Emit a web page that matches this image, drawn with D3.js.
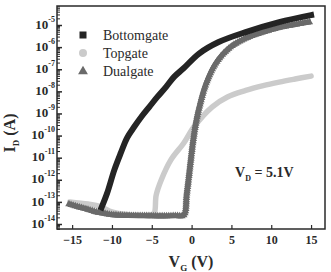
<!DOCTYPE html>
<html>
<head>
<meta charset="utf-8">
<script src="https://cdn.jsdelivr.net/npm/d3@7"></script>
<style>
body { margin: 0; background: #fff; }
svg text { font-family: "Liberation Serif", "DejaVu Serif", serif; }
</style>
</head>
<body>
<script>
// values (V_G in V, I_D in A)
const vgBottom = [-11.3, -10.6, -9.7, -8.9, -8.1, -7.2, -6.3, -5.3, -4.3, -3.2, -2.2, -1.0, 0.9, 3.4, 6.8, 11.0, 15.0];
const idBottom = [5.6e-14, 2.5e-13, 2.8e-12, 1.6e-11, 7.9e-11, 2.5e-10, 7.1e-10, 2.0e-9, 5.6e-9, 1.6e-8, 4.5e-8, 1.1e-7, 5.0e-7, 1.7e-6, 4.8e-6, 1.35e-5, 2.8e-5];

const vgTop = [-15.3, -13, -11.5, -10, -8, -6, -5.2, -4.7, -4.45, -3.8, -2.6, -1.0, 0.3, 2.6, 4.5, 6.8, 9, 11, 13, 15];
const idTop = [1.0e-13, 8.0e-14, 6.3e-14, 3.5e-14, 2.6e-14, 2.4e-14, 2.4e-14, 3.0e-14, 2.0e-13, 1.0e-12, 7.9e-12, 4.5e-11, 2.5e-10, 2.0e-9, 5.6e-9, 1.1e-8, 1.8e-8, 2.6e-8, 3.6e-8, 4.9e-8];

const vgDual = [-15.4, -14, -13, -12, -11, -10, -8, -6, -4, -2, -1.0, -0.6, -0.2, 0.2, 0.6, 1.0, 1.8, 3, 4.7, 6.8, 9, 11, 13, 15];
const idDual = [7.9e-14, 5.6e-14, 4.5e-14, 3.5e-14, 3.0e-14, 2.6e-14, 2.4e-14, 2.35e-14, 2.3e-14, 2.35e-14, 2.5e-14, 2.5e-13, 4.0e-12, 6.3e-11, 5.0e-10, 2.2e-9, 2.2e-8, 1.8e-7, 8.9e-7, 2.5e-6, 4.8e-6, 7.6e-6, 1.05e-5, 1.4e-5];

const seriesNames = ["Bottomgate", "Topgate", "Dualgate"];
const xTicks = [-15, -10, -5, 0, 5, 10, 15];
const yDecades = [-14, -13, -12, -11, -10, -9, -8, -7, -6, -5];

const width = 331, height = 272;
const plotL = 57, plotR = 325, plotT = 6, plotB = 229;
const serif = "'Liberation Serif', 'DejaVu Serif', serif";

const svg = d3.select("body").append("svg")
    .attr("width", width)
    .attr("height", height)
    .attr("font-family", serif);

const x = d3.scaleLinear().domain([-16.9, 16.75]).range([plotL, plotR]);
const y = d3.scaleLog().domain([Math.pow(10, -14.226), Math.pow(10, -4.14)]).range([plotB, plotT]);

const series = [
    { name: seriesNames[0], vg: vgBottom, id: idBottom, color: "#242424", w: 6, cap: "square" },
    { name: seriesNames[1], vg: vgTop, id: idTop, color: "#cbcbcb", w: 5.5, cap: "round" },
    { name: seriesNames[2], vg: vgDual, id: idDual, color: "#6a6a6a", w: 5, cap: "butt" }
];

const line = d3.line()
    .x(d => x(d[0]))
    .y(d => y(d[1]))
    .curve(d3.curveCatmullRom.alpha(0.5));

// draw order: topgate, dualgate, bottomgate
[series[1], series[2], series[0]].forEach(s => {
    const p = svg.append("path")
        .datum(s.vg.map((v, i) => [v, s.id[i]]))
        .attr("d", line)
        .attr("fill", "none")
        .attr("stroke", s.color)
        .attr("stroke-width", s.w)
        .attr("stroke-linecap", s.cap)
        .attr("stroke-linejoin", "round");

    if (s.name === "Dualgate") {
        // dense triangle markers along the curve, like the measured points
        const node = p.node();
        const len = node.getTotalLength();
        const pts = d3.range(0, len, 2.2).map(l => node.getPointAtLength(l));
        svg.append("g").selectAll("path")
            .data(pts)
            .enter().append("path")
            .attr("d", d3.symbol().type(d3.symbolTriangle).size(24))
            .attr("transform", d => `translate(${d.x}, ${d.y})`)
            .attr("fill", s.color);
    }
});

// frame
svg.append("rect")
    .attr("x", plotL).attr("y", plotT)
    .attr("width", plotR - plotL).attr("height", plotB - plotT)
    .attr("fill", "none")
    .attr("stroke", "#2a2a2a")
    .attr("stroke-width", 1.5);

// x axis, ticks inward
const xAxis = svg.append("g")
    .attr("transform", `translate(0, ${plotB})`)
    .call(d3.axisBottom(x).tickValues(xTicks).tickSize(-4).tickPadding(6).tickFormat(d3.format("d")))
    .attr("font-family", serif);
xAxis.select(".domain").remove();
xAxis.selectAll("line").attr("stroke", "#2a2a2a").attr("stroke-width", 1.2);
xAxis.selectAll("text")
    .attr("fill", "#2a2a2a")
    .attr("font-size", 12)
    .attr("font-weight", "bold");

// y axis, major and minor ticks inward
const minor = [];
yDecades.concat([-15]).forEach(e => {
    for (let k = 2; k <= 9; k++) {
        const v = k * Math.pow(10, e);
        if (v > y.domain()[0] && v < y.domain()[1]) minor.push(v);
    }
});

const yMinor = svg.append("g")
    .attr("transform", `translate(${plotL}, 0)`)
    .call(d3.axisLeft(y).tickValues(minor).tickSize(-3).tickFormat(""));
yMinor.select(".domain").remove();
yMinor.selectAll("line").attr("stroke", "#2a2a2a").attr("stroke-width", 1);

const yAxis = svg.append("g")
    .attr("transform", `translate(${plotL}, 0)`)
    .call(d3.axisLeft(y).tickValues(yDecades.map(e => Math.pow(10, e))).tickSize(-5).tickPadding(2).tickFormat(""))
    .attr("font-family", serif);
yAxis.select(".domain").remove();
yAxis.selectAll("line").attr("stroke", "#2a2a2a").attr("stroke-width", 1.5);
yAxis.selectAll(".tick text")
    .attr("fill", "#2a2a2a")
    .attr("font-weight", "bold")
    .each(function (d) {
        const t = d3.select(this);
        t.append("tspan").attr("font-size", 13).text("10");
        t.append("tspan").attr("font-size", 8).attr("dy", "-0.9em").text(Math.round(Math.log10(d)));
    });

// legend
const legend = svg.append("g");
const ly = [35, 53, 71];
legend.append("rect")
    .attr("x", 79.5).attr("y", ly[0] - 3.5).attr("width", 7).attr("height", 7)
    .attr("fill", series[0].color);
legend.append("circle")
    .attr("cx", 83).attr("cy", ly[1]).attr("r", 4)
    .attr("fill", series[1].color);
legend.append("path")
    .attr("d", d3.symbol().type(d3.symbolTriangle).size(42))
    .attr("transform", `translate(83, ${ly[2] + 0.5})`)
    .attr("fill", series[2].color);
legend.selectAll("text.lg")
    .data(seriesNames)
    .enter().append("text")
    .attr("class", "lg")
    .attr("x", 103)
    .attr("y", (d, i) => ly[i] + 5)
    .attr("fill", "#2a2a2a")
    .attr("font-size", 14)
    .text(d => d);

// V_D annotation
const vd = svg.append("text")
    .attr("x", 235).attr("y", 177)
    .attr("fill", "#2a2a2a")
    .attr("font-size", 14)
    .attr("font-weight", "bold");
vd.append("tspan").text("V");
vd.append("tspan").attr("dy", 4).attr("font-size", 8).text("D");
vd.append("tspan").attr("dy", -4).text(" = 5.1V");

// axis titles
const xt = svg.append("text")
    .attr("x", 191).attr("y", 267)
    .attr("text-anchor", "middle")
    .attr("fill", "#2a2a2a")
    .attr("font-size", 16)
    .attr("font-weight", "bold");
xt.append("tspan").text("V");
xt.append("tspan").attr("dy", 4).attr("font-size", 9).text("G");
xt.append("tspan").attr("dy", -4).text(" (V)");

const yt = svg.append("text")
    .attr("transform", "translate(15, 133) rotate(-90)")
    .attr("text-anchor", "middle")
    .attr("fill", "#2a2a2a")
    .attr("font-size", 16)
    .attr("font-weight", "bold");
yt.append("tspan").text("I");
yt.append("tspan").attr("dy", 4).attr("font-size", 9).text("D");
yt.append("tspan").attr("dy", -4).text(" (A)");
</script>
</body>
</html>
